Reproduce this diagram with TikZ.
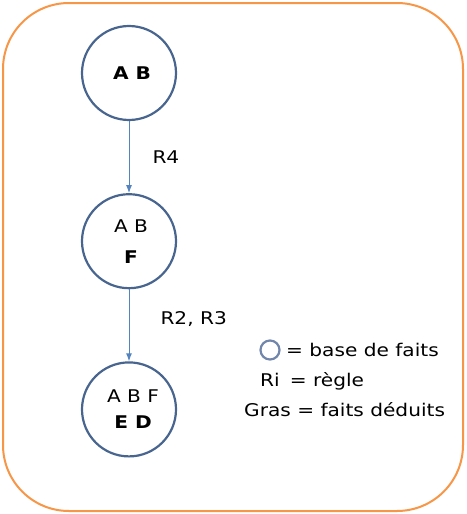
\documentclass[tikz,border=0pt]{standalone}
\usepackage{fontspec}
\setmainfont[FakeStretch=1.15]{DejaVu Sans}
\usepackage{tikz}
\usetikzlibrary{positioning, arrows.meta}
\definecolor{baseblue}{HTML}{48658F}
\definecolor{legblue}{HTML}{7186AA}
\definecolor{ruleblue}{HTML}{5384C0}
\definecolor{frameorange}{HTML}{F79646}
\tikzset{%
	base/.style={draw=baseblue, line width=2.2pt, circle, minimum size=94pt,%
		inner sep=0pt, align=center, font=\fontsize{17.5}{21}\selectfont},
	legbase/.style={draw=legblue, line width=2.2pt, circle, minimum size=19pt, inner sep=0pt},
	rule/.style={-{Latex[length=8pt,width=6pt]}, draw=ruleblue, line width=1pt},
	lbl/.style={font=\fontsize{17.5}{21}\selectfont, inner sep=0pt},
	frame/.style={draw=frameorange, line width=2pt, rounded corners=66pt}
}
\begin{document}
\begin{tikzpicture}[x=1pt, y=-1pt, node distance=72pt]
		\useasboundingbox (0,0) rectangle (466,514);
		\draw[frame] (3,3) rectangle (463,511);
		\node[base] (b1) at (129,73) {\hspace*{6pt}\textbf{A B}};
		\node[base] (b2) [below=of b1] {\hspace*{4pt}A B\\[10pt]\hspace*{4pt}\textbf{F}};
		\node[base] (b3) [below=of b2] {\hspace*{8pt}A B F\\[5pt]\hspace*{8pt}\textbf{E D}};
		\draw [rule] (b1) to node[lbl, right=23pt]{R4} (b2);
		\draw [rule] (b2) to node[lbl, right=31pt, yshift=6pt]{R2, R3} (b3);
		% legende
		\node[legbase] (leg) at (270,350) {};
		\node[lbl, anchor=west] (legbase-txt) at (286,350) {= base de faits};
		\node[lbl, anchor=west] (legrule-txt) at (260,381) {Ri\hspace{10pt}= règle};
		\node[lbl, anchor=west] (leggras-txt) at (244,410) {Gras = faits déduits};
	\end{tikzpicture}
\end{document}
